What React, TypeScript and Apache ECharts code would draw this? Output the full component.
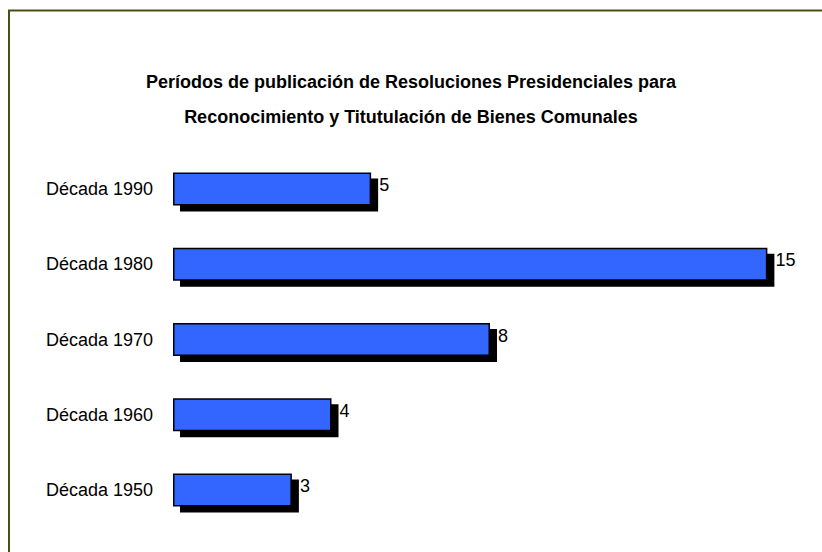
import React, { useEffect, useRef } from "react";
import * as echarts from "echarts";

const categories = ["Década 1950", "Década 1960", "Década 1970", "Década 1980", "Década 1990"];
const values = [3, 4, 8, 15, 5];
const titleLines = [
  "Períodos de publicación de Resoluciones Presidenciales para",
  "Reconocimiento y Titutulación de Bienes Comunales",
];

const FONT = "'Liberation Sans Narrow', 'Arial Narrow', 'Liberation Sans', sans-serif";

export default function App() {
  const ref = useRef<HTMLDivElement>(null);
  useEffect(() => {
    if (!ref.current) return;
    const chart = echarts.init(ref.current, null, { renderer: "svg" });
    chart.setOption({
      animation: false,
      backgroundColor: "#ffffff",
      graphic: [
        {
          type: "rect",
          shape: { x: 9, y: 10.5, width: 900, height: 900 },
          style: { fill: "none", stroke: "#4d4d14", lineWidth: 2 },
          silent: true,
        },
      ],
      title: {
        text: titleLines.join("\n"),
        left: "center",
        top: 59,
        textStyle: {
          fontFamily: FONT,
          fontWeight: "bold",
          fontSize: 18,
          lineHeight: 35,
          color: "#000",
        },
      },
      grid: { left: 173, top: 151.4, width: 634, height: 376.25, containLabel: false },
      xAxis: {
        type: "value",
        min: 0,
        max: 16,
        show: false,
      },
      yAxis: {
        type: "category",
        data: categories,
        axisLine: { show: false },
        axisTick: { show: false },
        splitLine: { show: false },
        axisLabel: {
          margin: 20,
          fontFamily: FONT,
          fontSize: 18,
          color: "#000",
        },
      },
      series: [
        {
          type: "bar",
          data: values,
          barWidth: 33,
          itemStyle: {
            color: "#3366ff",
            borderColor: "#000",
            borderWidth: 1.5,
            shadowColor: "#000",
            shadowBlur: 0,
            shadowOffsetX: 7,
            shadowOffsetY: 6,
          },
          label: {
            show: true,
            position: "right",
            distance: 8,
            offset: [0, -4],
            fontFamily: FONT,
            fontSize: 18,
            color: "#000",
          },
        },
      ],
    });
    return () => chart.dispose();
  }, []);
  return <div ref={ref} style={{ position: "fixed", left: 0, top: 0, width: 822, height: 552 }} />;
}
